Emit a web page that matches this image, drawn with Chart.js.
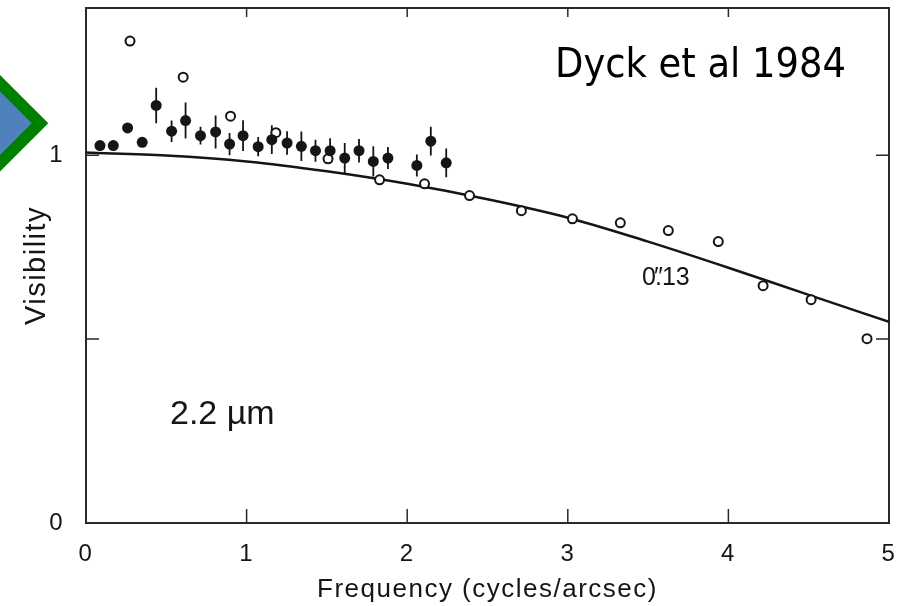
<!DOCTYPE html>
<html><head><meta charset="utf-8">
<script src="https://cdn.jsdelivr.net/npm/chart.js@4.4.1/dist/chart.umd.min.js"></script>
<style>html,body{margin:0;padding:0;background:#fff;overflow:hidden}canvas{display:block}</style>
</head><body>
<canvas id="c" width="897" height="606"></canvas>
<script>
// ---- tick labels / tick marks ----
const xTickValues = [0, 1, 2, 3, 4, 5];
const yTickValues = [0, 1];
const xInnerTicks = [1, 2, 3, 4];
const yInnerTicks = [0.5, 1];

// ---- filled points (with error bars) ----
const filledX = [0.087,0.170,0.259,0.350,0.437,0.533,0.620,0.713,0.807,0.894,0.978,1.072,1.157,1.252,1.341,1.429,1.520,1.611,1.700,1.789,1.880,2.060,2.147,2.243];
const filledY = [1.026,1.026,1.074,1.035,1.135,1.065,1.094,1.053,1.063,1.030,1.053,1.023,1.042,1.033,1.024,1.012,1.012,0.992,1.012,0.983,0.992,0.972,1.038,0.979];
const filledErr = [0,0,0,0,0.048,0.029,0.049,0.024,0.045,0.030,0.042,0.026,0.039,0.032,0.040,0.030,0.034,0.041,0.032,0.041,0.030,0.030,0.039,0.039];

// ---- open circles ----
const openX = [0.274,0.605,0.900,1.182,1.507,1.828,2.108,2.388,2.711,3.029,3.327,3.626,3.937,4.216,4.515,4.863];
const openY = [1.310,1.212,1.106,1.061,0.990,0.933,0.922,0.890,0.849,0.827,0.816,0.795,0.765,0.645,0.607,0.501];

// ---- model curve ----
const curveX = [0, 0.5, 1, 1.5, 2, 2.5, 3, 3.5, 4, 4.5, 5];
const curveY = [1.007, 0.999, 0.983, 0.956, 0.922, 0.880, 0.830, 0.765, 0.694, 0.620, 0.547];

const toPts = (xs, ys) => xs.map((x, i) => ({x, y: ys[i]}));
const errPts = [];
filledX.forEach((x, i) => {
  if (filledErr[i] > 0) {
    errPts.push({x, y: filledY[i] - filledErr[i]}, {x, y: filledY[i] + filledErr[i]}, {x, y: null});
  }
});

const INK = '#151515';

const deco = {
  id: 'deco',
  beforeDraw(chart) {
    const ctx = chart.ctx;
    ctx.save();
    const cy = 123.3;
    ctx.fillStyle = '#008000';
    ctx.beginPath();
    ctx.moveTo(-150, cy - 198.3); ctx.lineTo(48.3, cy); ctx.lineTo(-150, cy + 198.3); ctx.closePath();
    ctx.fill();
    ctx.fillStyle = '#4F81BD';
    ctx.beginPath();
    ctx.moveTo(-150, cy - 181.7); ctx.lineTo(31.7, cy); ctx.lineTo(-150, cy + 181.7); ctx.closePath();
    ctx.fill();
    ctx.restore();
    ctx.letterSpacing = '1.5px';
  },
  beforeDatasetsDraw(chart) {
    const {ctx, chartArea: a, scales: {x, y}} = chart;
    ctx.save();
    ctx.strokeStyle = '#2a2a2a';
    ctx.lineWidth = 2;
    ctx.strokeRect(a.left, a.top, a.right - a.left, a.bottom - a.top);
    ctx.lineWidth = 1.5;
    ctx.beginPath();
    xInnerTicks.forEach(v => {
      const px = x.getPixelForValue(v);
      ctx.moveTo(px, a.bottom); ctx.lineTo(px, a.bottom - 14);
      ctx.moveTo(px, a.top); ctx.lineTo(px, a.top + 9);
    });
    yInnerTicks.forEach(v => {
      const py = y.getPixelForValue(v);
      ctx.moveTo(a.left, py); ctx.lineTo(a.left + 13, py);
      ctx.moveTo(a.right, py); ctx.lineTo(a.right - 13, py);
    });
    ctx.stroke();
    ctx.restore();
  },
  afterDraw(chart) {
    const ctx = chart.ctx;
    ctx.save();
    ctx.fillStyle = '#000';
    ctx.textBaseline = 'alphabetic';
    ctx.textAlign = 'left';
    ctx.letterSpacing = '0px';
    ctx.font = "41px 'DejaVu Sans Condensed', 'DejaVu Sans'";
    ctx.fillText('Dyck et al 1984', 555, 77);
    ctx.fillStyle = INK;
    ctx.font = "34px 'Liberation Sans', Arial";
    ctx.fillText('2.2 \u00B5m', 170, 424);
    ctx.font = "25px 'Liberation Sans', Arial";
    const x0 = 642, yb = 285;
    ctx.fillText('0', x0, yb);
    const w0 = ctx.measureText('0').width;
    ctx.fillText('.', x0 + w0 - 1, yb);
    ctx.fillText('\u2033', x0 + w0 - 2, yb);
    ctx.fillText('13', x0 + w0 + 6, yb);
    ctx.restore();
  }
};

new Chart(document.getElementById('c'), {
  type: 'scatter',
  data: {
    datasets: [
      { label: 'filled', data: toPts(filledX, filledY), pointRadius: 5.5, pointBackgroundColor: INK, pointBorderColor: INK, pointBorderWidth: 0, order: 0 },
      { label: 'open', data: toPts(openX, openY), pointRadius: 4.5, pointBackgroundColor: '#fff', pointBorderColor: INK, pointBorderWidth: 2, order: 1 },
      { label: 'err', data: errPts, showLine: true, spanGaps: false, pointRadius: 0, borderColor: INK, borderWidth: 1.8, order: 2 },
      { label: 'model', data: toPts(curveX, curveY), showLine: true, pointRadius: 0, borderColor: INK, borderWidth: 2.5, cubicInterpolationMode: 'monotone', order: 3 }
    ]
  },
  options: {
    responsive: false,
    animation: false,
    devicePixelRatio: 1,
    layout: { padding: { top: 8, right: 8, left: 0, bottom: 0 } },
    plugins: { legend: { display: false }, tooltip: { enabled: false } },
    scales: {
      x: {
        type: 'linear', min: 0, max: 5,
        afterBuildTicks: s => { s.ticks = xTickValues.map(v => ({value: v})); },
        afterFit: s => { s.height = 83; s.paddingLeft = 0; s.paddingRight = 0; s.paddingTop = 0; s.paddingBottom = 0; },
        grid: { display: false }, border: { display: false },
        ticks: { color: INK, padding: 9, font: { family: "'Liberation Sans', Arial", size: 24 }, callback: v => String(v) },
        title: { display: true, text: 'Frequency (cycles/arcsec)', color: INK, padding: { top: 0, bottom: 1 }, font: { family: "'Liberation Sans', Arial", size: 26 } }
      },
      y: {
        type: 'linear', min: 0, max: 1.4,
        afterBuildTicks: s => { s.ticks = yTickValues.map(v => ({value: v})); },
        afterFit: s => { s.width = 86; s.paddingLeft = 0; s.paddingRight = 0; s.paddingTop = 0; s.paddingBottom = 0; },
        grid: { display: false }, border: { display: false },
        ticks: { color: INK, padding: 14, font: { family: "'Liberation Sans', Arial", size: 24 }, callback: v => String(v) },
        title: { display: true, text: 'Visibility', color: INK, padding: { top: 20, bottom: 0 }, font: { family: "'Liberation Sans', Arial", size: 29 } }
      }
    }
  },
  plugins: [deco]
});
</script>
</body></html>
